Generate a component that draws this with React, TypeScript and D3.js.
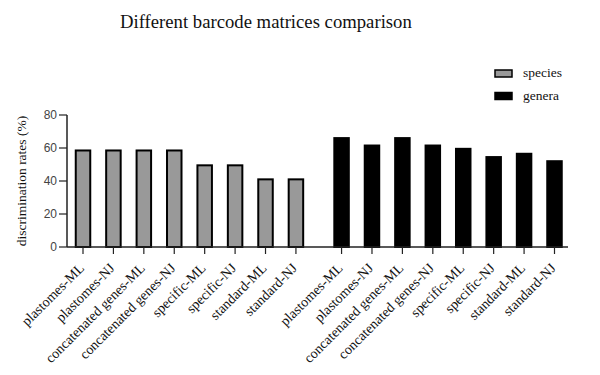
import React from 'react';
import * as d3 from 'd3';

// categories (same for both groups)
const categories = [
  'plastomes-ML', 'plastomes-NJ', 'concatenated genes-ML', 'concatenated genes-NJ',
  'specific-ML', 'specific-NJ', 'standard-ML', 'standard-NJ',
];
const speciesValues = [58.5, 58.5, 58.5, 58.5, 49.5, 49.5, 41, 41];
const generaValues = [66, 61.5, 66, 61.5, 59.5, 54.5, 56.5, 52];
const yTicks = [0, 20, 40, 60, 80];
const seriesNames = ['species', 'genera'];
const seriesFill = ['#999999', '#000000'];

const W = 600;
const H = 375;
const serif = '"Liberation Serif", "Times New Roman", serif';
const sans = '"Liberation Sans", Arial, sans-serif';

const App = () => {
  const margin = { top: 115, left: 67, bottom: 247, right: 568 };

  const y = d3.scaleLinear().domain([0, 80]).range([margin.bottom, margin.top]);
  // slot positions: species 0..7, then 1.5 slot gap, genera 8.5..15.5
  const x = d3.scaleLinear().domain([0, 15.5]).range([83, 554.5]);
  const barW = 14.5;

  const groups = [speciesValues, generaValues];
  const bars = groups.flatMap((vals, g) =>
    vals.map((v, i) => ({
      g,
      label: categories[i],
      value: v,
      pos: g === 0 ? i : 8.5 + i,
    }))
  );

  return (
    <svg width={W} height={H} style={{ position: 'absolute', left: 0, top: 0, background: '#fff' }}>
      {/* title */}
      <text x={120} y={28} fontFamily={serif} fontSize={18.7} fill="#111">
        Different barcode matrices comparison
      </text>

      {/* bars */}
      {bars.map((d, i) => (
        <rect
          key={i}
          x={x(d.pos) - barW / 2}
          y={y(d.value)}
          width={barW}
          height={y(0) - y(d.value)}
          fill={seriesFill[d.g]}
          stroke="#000"
          strokeWidth={2}
        />
      ))}

      {/* y axis */}
      <line x1={margin.left} x2={margin.left} y1={margin.top} y2={margin.bottom} stroke="#222" strokeWidth={1.5} />
      {yTicks.map((t) => (
        <g key={t} transform={`translate(0,${y(t)})`}>
          <line x1={margin.left - 8} x2={margin.left} stroke="#222" strokeWidth={1.2} />
          <text x={margin.left - 10} dy="0.35em" textAnchor="end" fontFamily={sans} fontSize={12} fill="#444">
            {t}
          </text>
        </g>
      ))}
      <text
        transform={`translate(26,${(margin.top + margin.bottom) / 2}) rotate(-90)`}
        textAnchor="middle"
        fontFamily={serif}
        fontSize={13.5}
        fill="#111"
      >
        discrimination rates (%)
      </text>

      {/* x axis */}
      <line x1={margin.left} x2={margin.right} y1={margin.bottom} y2={margin.bottom} stroke="#222" strokeWidth={1.5} />
      {bars.map((d, i) => (
        <g key={i} transform={`translate(${x(d.pos)},${margin.bottom})`}>
          <line y1={0} y2={7} stroke="#222" strokeWidth={1.2} />
          <text
            transform="translate(2,22) rotate(-45)"
            textAnchor="end"
            fontFamily={serif}
            fontSize={14}
            fill="#111"
          >
            {d.label}
          </text>
        </g>
      ))}

      {/* legend */}
      {seriesNames.map((s, i) => (
        <g key={s} transform={`translate(495,${70 + i * 22.5})`}>
          <rect width={17} height={7} fill={seriesFill[i]} stroke="#000" strokeWidth={1.5} />
          <text x={28} y={7} fontFamily={serif} fontSize={13.5} fill="#111">
            {s}
          </text>
        </g>
      ))}
    </svg>
  );
};

export default App;
